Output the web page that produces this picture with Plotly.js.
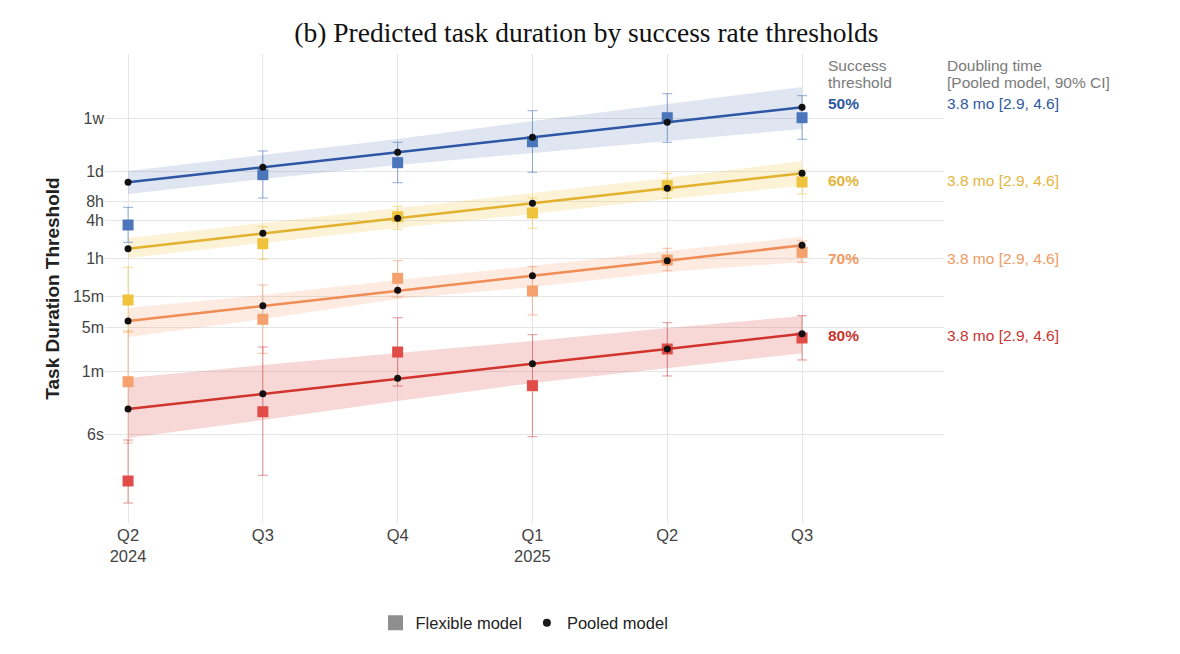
<!DOCTYPE html>
<html>
<head>
<meta charset="utf-8">
<script src="https://cdn.plot.ly/plotly-3.0.1.min.js"></script>
<style>
  html, body { margin: 0; padding: 0; background: #fff; }
  #chart { width: 1180px; height: 654px; }
</style>
</head>
<body>
<div id="chart"></div>
<script>
// quarters on the x axis (0 = Q2 2024)
var qx = [0, 1, 2, 3, 4, 5];
var qLabels = ['Q2<br>2024', 'Q3', 'Q4', 'Q1<br>2025', 'Q2', 'Q3'];

// y axis ticks, values in minutes
var yTickVals = [0.1, 1, 5, 15, 60, 240, 480, 1440, 10080];
var yTickText = ['6s', '1m', '5m', '15m', '1h', '4h', '8h', '1d', '1w'];

var thresholds = ['50%', '60%', '70%', '80%'];
var doubling = ['3.8 mo [2.9, 4.6]', '3.8 mo [2.9, 4.6]', '3.8 mo [2.9, 4.6]', '3.8 mo [2.9, 4.6]'];

// pooled model (minutes) + 90% band
var pooled50 = [975, 1685, 2910, 5025, 8675, 14990];
var band50Lo = [637, 1099, 1831, 2835, 4389, 6798];
var band50Hi = [1472, 2636, 4722, 9097, 16900, 31400];
var pooled60 = [86.7, 152, 262.6, 453.6, 783.5, 1353];
var band60Lo = [61.8, 106.8, 184.5, 307.2, 530.6, 851.8];
var band60Hi = [128.1, 221.3, 382.2, 660.2, 1140, 2118];
var pooled70 = [6.23, 10.87, 19.06, 32.4, 56.0, 98.2];
var band70Lo = [3.48, 6.70, 13.88, 21.49, 37.12, 53.43];
var band70Hi = [10, 16.06, 27.73, 46.19, 79.8, 132.9];
var pooled80 = [0.2523, 0.4406, 0.772, 1.314, 2.245, 3.922];
var band80Lo = [0.0877, 0.169, 0.3377, 0.6506, 1.124, 1.92];
var band80Hi = [0.7806, 1.254, 1.941, 3.005, 4.826, 7.47];

// flexible model (minutes) + interval
var flex50 = [205.7, 1286, 1991, 4280, 10260, 10260];
var flex50Lo = [109.5, 550.3, 960.7, 1404, 4187, 4670];
var flex50Hi = [392.1, 3050, 4187, 13240, 24590, 22870];
var flex60 = [13.38, 104.1, 278.4, 318.6, 861.1, 985.6];
var flex60Lo = [4.13, 58.97, 176, 182.5, 544.3, 636.6];
var flex60Hi = [44.06, 193.4, 406.6, 550.3, 1353, 1526];
var flex70 = [0.682, 6.625, 29.5, 18.58, 57.48, 76.07];
var flex70Lo = [0.0731, 1.92, 14.93, 7.75, 38.93, 52.85];
var flex70Hi = [4.326, 23.12, 56.02, 45.03, 88.05, 114.8];
var flex80 = [0.01831, 0.2286, 2.012, 0.5896, 2.245, 3.352];
var flex80Lo = [0.00821, 0.02253, 0.5832, 0.09196, 0.8396, 1.504];
var flex80Hi = [0.08155, 2.415, 7.023, 3.78, 5.853, 7.553];

var series = [
  {pooled: pooled50, lo: band50Lo, hi: band50Hi, flex: flex50, fLo: flex50Lo, fHi: flex50Hi,
   line: '#2d56a3', mark: '#4b76bb', band: 'rgba(45,86,163,0.15)', err: 'rgba(75,118,187,0.6)', label: '#2e59a0'},
  {pooled: pooled60, lo: band60Lo, hi: band60Hi, flex: flex60, fLo: flex60Lo, fHi: flex60Hi,
   line: '#e2b12e', mark: '#f0c33d', band: 'rgba(238,190,50,0.2)', err: 'rgba(240,195,61,0.6)', label: '#e3b53a'},
  {pooled: pooled70, lo: band70Lo, hi: band70Hi, flex: flex70, fLo: flex70Lo, fHi: flex70Hi,
   line: '#f08c55', mark: '#f5a16e', band: 'rgba(245,150,100,0.2)', err: 'rgba(240,140,95,0.55)', label: '#ef9a62'},
  {pooled: pooled80, lo: band80Lo, hi: band80Hi, flex: flex80, fLo: flex80Lo, fHi: flex80Hi,
   line: '#d1342b', mark: '#e04c48', band: 'rgba(215,60,55,0.2)', err: 'rgba(208,60,60,0.55)', label: '#c9352e'}
];

var bands = [], flexTraces = [], lines = [], dots = [];
series.forEach(function (s) {
  bands.push({
    type: 'scatter', mode: 'lines', showlegend: false, hoverinfo: 'skip',
    x: qx.concat(qx.slice().reverse()),
    y: s.hi.concat(s.lo.slice().reverse()),
    fill: 'toself', fillcolor: s.band, line: {width: 0}
  });
  flexTraces.push({
    type: 'scatter', mode: 'markers', showlegend: false,
    x: qx, y: s.flex,
    marker: {symbol: 'square', size: 11, color: s.mark},
    error_y: {
      type: 'data', symmetric: false,
      array: s.fHi.map(function (v, i) { return v - s.flex[i]; }),
      arrayminus: s.flex.map(function (v, i) { return v - s.fLo[i]; }),
      color: s.err, thickness: 1, width: 5
    }
  });
  lines.push({
    type: 'scatter', mode: 'lines', showlegend: false,
    x: qx, y: s.pooled, line: {color: s.line, width: 2.5}
  });
  dots.push({
    type: 'scatter', mode: 'markers', showlegend: false,
    x: qx, y: s.pooled, marker: {color: '#111', size: 7}
  });
});

// legend entries
var legendTraces = [
  {type: 'scatter', mode: 'markers', name: 'Flexible model', x: [null], y: [null],
   marker: {symbol: 'square', size: 15, color: '#8f8f8f'}},
  {type: 'scatter', mode: 'markers', name: 'Pooled model', x: [null], y: [null],
   marker: {symbol: 'circle', size: 8, color: '#1a1a1a'}}
];

var data = bands.concat(flexTraces, lines, dots, legendTraces);

var greyText = '#7a7a7a';
var colThreshold = 0.8594, colDoubling = 1.0006;
var labelY = [0.8955, 0.7299, 0.5650, 0.3994];
var annotations = [
  {text: 'Success', x: colThreshold, y: 0.9765},
  {text: 'threshold', x: colThreshold, y: 0.9382},
  {text: 'Doubling time', x: colDoubling, y: 0.9765},
  {text: '[Pooled model, 90% CI]', x: colDoubling, y: 0.9382}
].map(function (a) {
  return {text: a.text, x: a.x, y: a.y, xref: 'paper', yref: 'paper', xanchor: 'left', yanchor: 'middle',
          showarrow: false, font: {size: 15.5, color: greyText}};
});
series.forEach(function (s, i) {
  annotations.push({text: '<b>' + thresholds[i] + '</b>', x: colThreshold, y: labelY[i], xref: 'paper', yref: 'paper',
    xanchor: 'left', yanchor: 'middle', showarrow: false, font: {size: 15.5, color: s.label}});
  annotations.push({text: doubling[i], x: colDoubling, y: labelY[i], xref: 'paper', yref: 'paper',
    xanchor: 'left', yanchor: 'middle', showarrow: false, font: {size: 15.5, color: s.label}});
});

var layout = {
  width: 1180, height: 654,
  paper_bgcolor: '#fff', plot_bgcolor: '#fff',
  font: {family: 'Liberation Sans, Arial, sans-serif', size: 16, color: '#444'},
  margin: {l: 105, r: 236, t: 54, b: 131},
  title: {
    text: '(b) Predicted task duration by success rate thresholds',
    font: {family: 'Liberation Serif, serif', size: 27.5, color: '#111'},
    xref: 'container', x: 0.497, xanchor: 'center', y: 0.951, yanchor: 'middle'
  },
  xaxis: {
    range: [-0.171, 6.053],
    tickvals: qx, ticktext: qLabels,
    showgrid: true, gridcolor: '#e6e6e6', zeroline: false, showline: false,
    ticks: '', tickfont: {size: 16.5, color: '#444'}
  },
  yaxis: {
    type: 'log', range: [-2.402, 5.019],
    tickvals: yTickVals, ticktext: yTickText,
    showgrid: true, gridcolor: '#e6e6e6', zeroline: false, showline: false,
    ticks: '', tickfont: {size: 16, color: '#444'},
    title: {text: '<b>Task Duration Threshold</b>', font: {size: 19, color: '#222'}, standoff: 8}
  },
  showlegend: true,
  legend: {
    orientation: 'h', x: 0.5, xanchor: 'center', y: -0.2132, yanchor: 'middle',
    font: {size: 16.5, color: '#222'}, bgcolor: 'rgba(0,0,0,0)'
  },
  annotations: annotations
};

Plotly.newPlot('chart', data, layout, {staticPlot: true, displaylogo: false});
</script>
</body>
</html>
